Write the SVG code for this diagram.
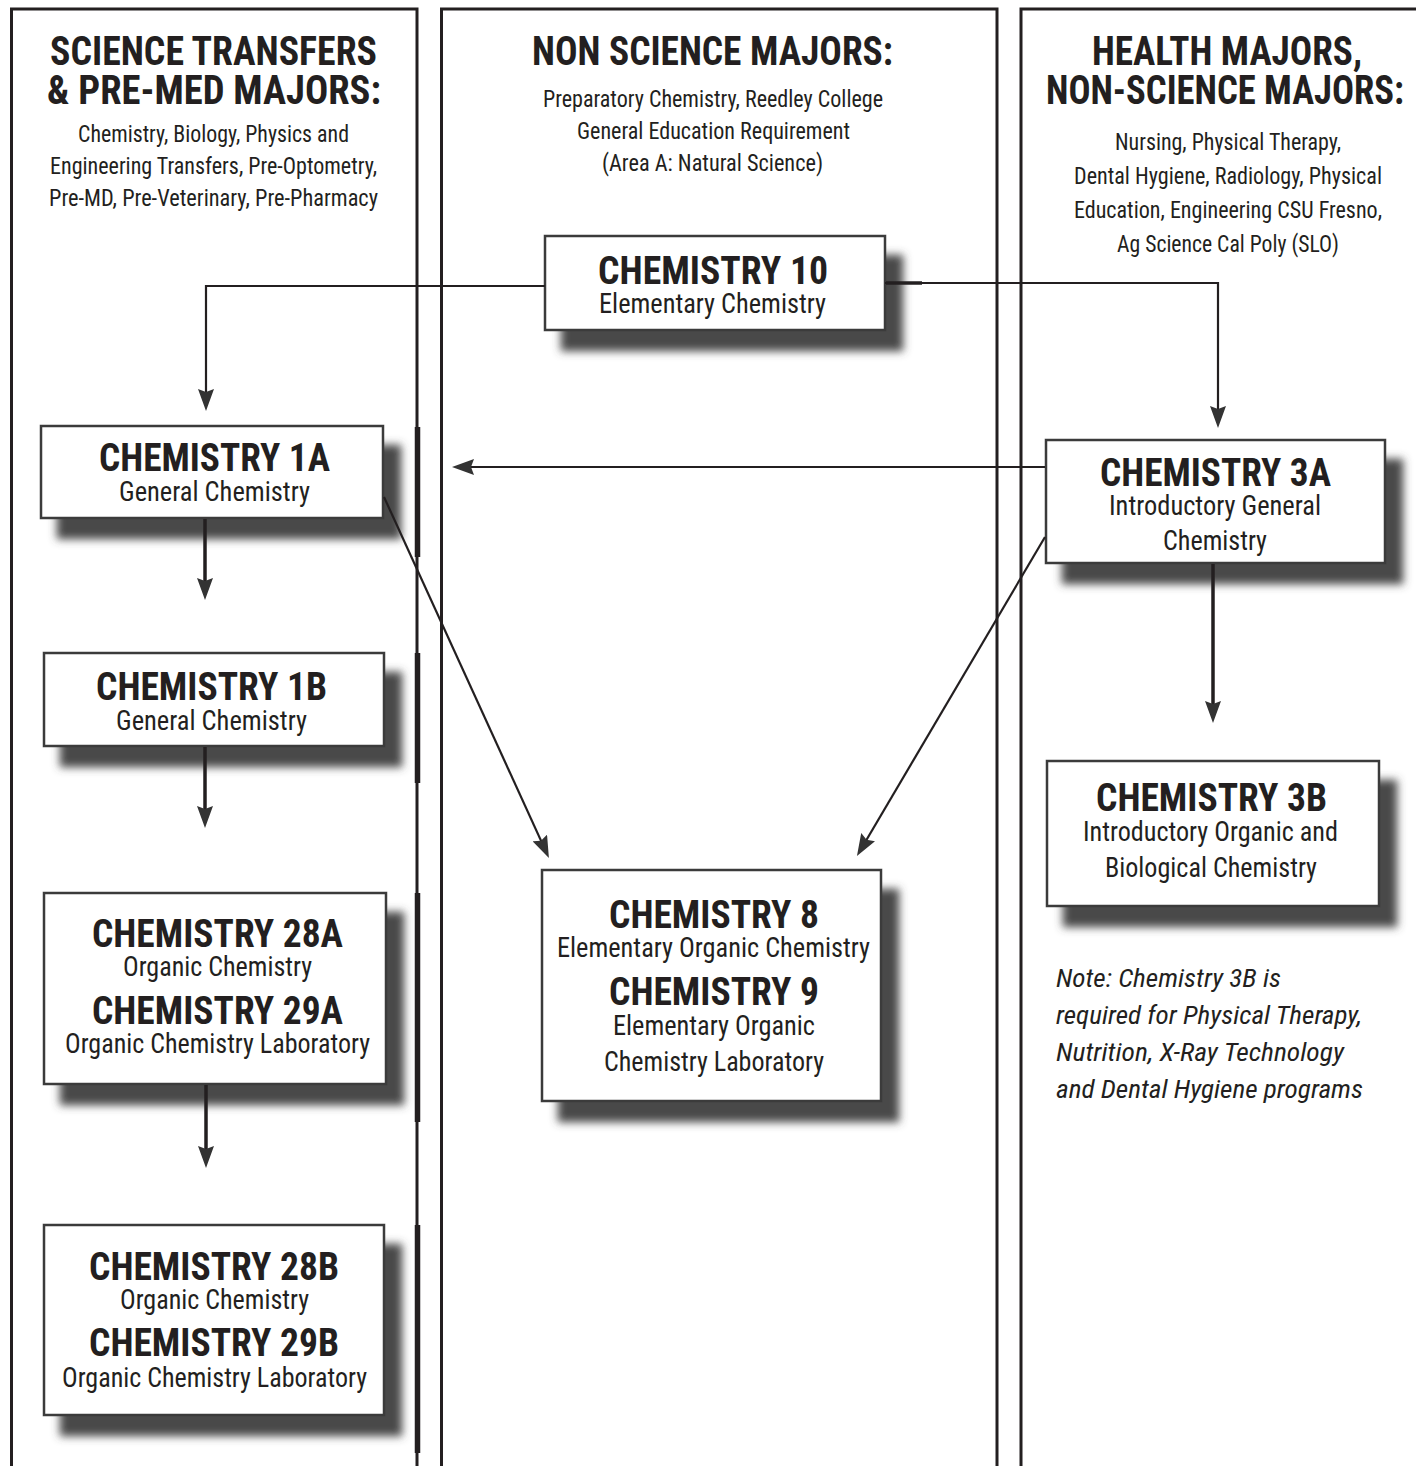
<svg xmlns="http://www.w3.org/2000/svg" width="1416" height="1466" viewBox="0 0 1416 1466">
<defs>
<style>
.col{fill:none;stroke:#231f20;stroke-width:3}
.edge{stroke:#231f20;stroke-width:5.5}
.box{fill:#fff;stroke:#3a3a3a;stroke-width:2.5}
text{font-family:"Liberation Sans Narrow","Roboto Condensed","DejaVu Sans Condensed","Liberation Sans",sans-serif;fill:#231f20;text-anchor:middle}
.h{font-weight:bold;font-size:41px}
.hs{font-size:23px}
.t{font-weight:bold;font-size:39px}
.s{font-size:27px}
.note{font-style:italic;font-size:26px;text-anchor:start}
.conn{fill:none;stroke:#231f20;stroke-width:2.2}
.thick{stroke-width:3.5}
</style>
<filter id="ds" x="-10%" y="-10%" width="130%" height="150%">
<feDropShadow dx="17" dy="20" stdDeviation="4.5" flood-color="#4a4a4a" flood-opacity="1"/>
</filter>
<marker id="ah" viewBox="0 0 22 16" markerWidth="22" markerHeight="16" refX="15" refY="8" orient="auto" markerUnits="userSpaceOnUse">
<path d="M0,0 L22,8 L0,16 L3,8 z" fill="#333"/>
</marker>
</defs>
<rect width="1416" height="1466" fill="#fff"/>

<g id="columns">
<rect class="col" x="11.5" y="9" width="405.5" height="1480"/>
<rect class="col" x="441.5" y="9" width="555.5" height="1480"/>
<rect class="col" x="1021" y="9" width="430" height="1480"/>
<line class="edge" x1="417.5" y1="427" x2="417.5" y2="557"/>
<line class="edge" x1="417.5" y1="653" x2="417.5" y2="783"/>
<line class="edge" x1="417.5" y1="893" x2="417.5" y2="1122"/>
<line class="edge" x1="417.5" y1="1225" x2="417.5" y2="1453"/>
</g>

<g id="header-science">
<text class="h" x="213.5" y="65" textLength="327" lengthAdjust="spacingAndGlyphs">SCIENCE TRANSFERS</text>
<text class="h" x="214" y="104" textLength="334" lengthAdjust="spacingAndGlyphs">&amp; PRE-MED MAJORS:</text>
<text class="hs" x="213.5" y="142" textLength="271" lengthAdjust="spacingAndGlyphs">Chemistry, Biology, Physics and</text>
<text class="hs" x="213.5" y="174" textLength="327" lengthAdjust="spacingAndGlyphs">Engineering Transfers, Pre-Optometry,</text>
<text class="hs" x="213.5" y="206" textLength="329" lengthAdjust="spacingAndGlyphs">Pre-MD, Pre-Veterinary, Pre-Pharmacy</text>
</g>

<g id="header-nonscience">
<text class="h" x="712.5" y="65" textLength="361" lengthAdjust="spacingAndGlyphs">NON SCIENCE MAJORS:</text>
<text class="hs" x="713" y="107" textLength="340" lengthAdjust="spacingAndGlyphs">Preparatory Chemistry, Reedley College</text>
<text class="hs" x="713.5" y="139" textLength="273" lengthAdjust="spacingAndGlyphs">General Education Requirement</text>
<text class="hs" x="712.5" y="171" textLength="221" lengthAdjust="spacingAndGlyphs">(Area A: Natural Science)</text>
</g>

<g id="header-health">
<text class="h" x="1227" y="65" textLength="270" lengthAdjust="spacingAndGlyphs">HEALTH MAJORS,</text>
<text class="h" x="1225" y="104" textLength="358" lengthAdjust="spacingAndGlyphs">NON-SCIENCE MAJORS:</text>
<text class="hs" x="1228" y="150" textLength="226" lengthAdjust="spacingAndGlyphs">Nursing, Physical Therapy,</text>
<text class="hs" x="1228" y="184" textLength="308" lengthAdjust="spacingAndGlyphs">Dental Hygiene, Radiology, Physical</text>
<text class="hs" x="1228" y="218" textLength="308" lengthAdjust="spacingAndGlyphs">Education, Engineering CSU Fresno,</text>
<text class="hs" x="1228" y="252" textLength="222" lengthAdjust="spacingAndGlyphs">Ag Science Cal Poly (SLO)</text>
</g>

<g id="chem10">
<rect class="box" x="545" y="236" width="340" height="94" filter="url(#ds)"/>
<text class="t" x="713" y="284" textLength="230" lengthAdjust="spacingAndGlyphs">CHEMISTRY 10</text>
<text class="s" x="712.5" y="313" textLength="227" lengthAdjust="spacingAndGlyphs">Elementary Chemistry</text>
</g>

<g id="chem1a">
<rect class="box" x="41" y="426" width="342" height="92" filter="url(#ds)"/>
<text class="t" x="214.5" y="471" textLength="231" lengthAdjust="spacingAndGlyphs">CHEMISTRY 1A</text>
<text class="s" x="214.5" y="501" textLength="191" lengthAdjust="spacingAndGlyphs">General Chemistry</text>
</g>

<g id="chem3a">
<rect class="box" x="1046" y="440" width="339" height="123" filter="url(#ds)"/>
<text class="t" x="1215.5" y="486" textLength="231" lengthAdjust="spacingAndGlyphs">CHEMISTRY 3A</text>
<text class="s" x="1215" y="515" textLength="212" lengthAdjust="spacingAndGlyphs">Introductory General</text>
<text class="s" x="1215" y="550" textLength="104" lengthAdjust="spacingAndGlyphs">Chemistry</text>
</g>

<g id="chem1b">
<rect class="box" x="44" y="653" width="340" height="93" filter="url(#ds)"/>
<text class="t" x="211.5" y="700" textLength="231" lengthAdjust="spacingAndGlyphs">CHEMISTRY 1B</text>
<text class="s" x="211.5" y="730" textLength="191" lengthAdjust="spacingAndGlyphs">General Chemistry</text>
</g>

<g id="chem3b">
<rect class="box" x="1047" y="761" width="332" height="145" filter="url(#ds)"/>
<text class="t" x="1211.5" y="811" textLength="231" lengthAdjust="spacingAndGlyphs">CHEMISTRY 3B</text>
<text class="s" x="1210.5" y="841" textLength="255" lengthAdjust="spacingAndGlyphs">Introductory Organic and</text>
<text class="s" x="1211" y="877" textLength="212" lengthAdjust="spacingAndGlyphs">Biological Chemistry</text>
</g>

<g id="chem28a-29a">
<rect class="box" x="44" y="893" width="342" height="191" filter="url(#ds)"/>
<text class="t" x="217.5" y="947" textLength="251" lengthAdjust="spacingAndGlyphs">CHEMISTRY 28A</text>
<text class="s" x="217.5" y="976" textLength="189" lengthAdjust="spacingAndGlyphs">Organic Chemistry</text>
<text class="t" x="217.5" y="1024" textLength="251" lengthAdjust="spacingAndGlyphs">CHEMISTRY 29A</text>
<text class="s" x="217.5" y="1053" textLength="305" lengthAdjust="spacingAndGlyphs">Organic Chemistry Laboratory</text>
</g>

<g id="chem8-9">
<rect class="box" x="542" y="870" width="339" height="231" filter="url(#ds)"/>
<text class="t" x="714" y="928" textLength="210" lengthAdjust="spacingAndGlyphs">CHEMISTRY 8</text>
<text class="s" x="713.5" y="957" textLength="313" lengthAdjust="spacingAndGlyphs">Elementary Organic Chemistry</text>
<text class="t" x="714" y="1005" textLength="210" lengthAdjust="spacingAndGlyphs">CHEMISTRY 9</text>
<text class="s" x="714" y="1035" textLength="202" lengthAdjust="spacingAndGlyphs">Elementary Organic</text>
<text class="s" x="714" y="1071" textLength="220" lengthAdjust="spacingAndGlyphs">Chemistry Laboratory</text>
</g>

<g id="chem28b-29b">
<rect class="box" x="44" y="1225" width="340" height="190" filter="url(#ds)"/>
<text class="t" x="214" y="1280" textLength="250" lengthAdjust="spacingAndGlyphs">CHEMISTRY 28B</text>
<text class="s" x="214.5" y="1309" textLength="189" lengthAdjust="spacingAndGlyphs">Organic Chemistry</text>
<text class="t" x="214" y="1356" textLength="250" lengthAdjust="spacingAndGlyphs">CHEMISTRY 29B</text>
<text class="s" x="214.5" y="1387" textLength="305" lengthAdjust="spacingAndGlyphs">Organic Chemistry Laboratory</text>
</g>

<g id="note">
<text class="note" x="1056" y="987" textLength="225" lengthAdjust="spacingAndGlyphs">Note: Chemistry 3B is</text>
<text class="note" x="1056" y="1024" textLength="306" lengthAdjust="spacingAndGlyphs">required for Physical Therapy,</text>
<text class="note" x="1056" y="1061" textLength="288" lengthAdjust="spacingAndGlyphs">Nutrition, X-Ray Technology</text>
<text class="note" x="1056" y="1098" textLength="307" lengthAdjust="spacingAndGlyphs">and Dental Hygiene programs</text>
</g>

<g id="connectors">
<path class="conn" d="M545,286 H206 V404" marker-end="url(#ah)"/>
<path class="conn" d="M885,283 H1218 V421" marker-end="url(#ah)"/>
<line class="conn thick" x1="886" y1="283" x2="922" y2="283"/>
<path class="conn thick" d="M205,519 V593" marker-end="url(#ah)"/>
<path class="conn thick" d="M205,747 V821" marker-end="url(#ah)"/>
<path class="conn thick" d="M206,1085 V1161" marker-end="url(#ah)"/>
<path class="conn thick" d="M1213,564 V716" marker-end="url(#ah)"/>
<path class="conn" d="M1045,467 H459" marker-end="url(#ah)"/>
<path class="conn" d="M384,497 L546,851.6" marker-end="url(#ah)"/>
<path class="conn" d="M1045,537 L860.5,850" marker-end="url(#ah)"/>
</g>
</svg>
